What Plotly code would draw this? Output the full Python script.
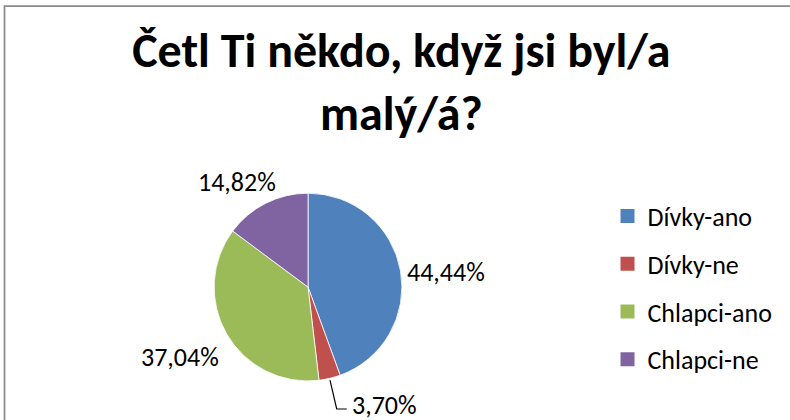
import plotly.graph_objects as go

labels = ["Dívky-ano", "Dívky-ne", "Chlapci-ano", "Chlapci-ne"]
values = [44.44, 3.70, 37.04, 14.82]
colors = ["#4F81BD", "#C0504D", "#9BBB59", "#8064A2"]

# where Excel put each data label (paper coords, anchor)
label_pos = [
    (0.5127, 0.3524, "left"),
    (0.4430, 0.0357, "left"),
    (0.2278, 0.1500, "center"),
    (0.3000, 0.5667, "center"),
]

FONT = "Carlito, Calibri, Open Sans, sans-serif"

fig = go.Figure()

fig.add_trace(go.Pie(
    labels=labels,
    values=values,
    sort=False,
    direction="clockwise",
    rotation=0,
    marker=dict(colors=colors, line=dict(color="white", width=0.8)),
    textinfo="none",
    domain=dict(x=[0.2709, 0.5089], y=[0.0929, 0.540]),
    showlegend=False,
    hoverinfo="label+percent",
))

# data labels
for v, (px, py, anchor) in zip(values, label_pos):
    fig.add_annotation(
        x=px, y=py, xref="paper", yref="paper",
        xanchor=anchor, yanchor="middle",
        text=f"{v:.2f}%".replace(".", ","),
        showarrow=False,
        font=dict(size=26, color="#000000", family=FONT),
    )

# legend entries (square keys, spaced like the original)
for name, col in zip(labels, colors):
    fig.add_trace(go.Scatter(
        x=[None], y=[None],
        mode="markers",
        marker=dict(symbol="square", size=14, color=col),
        name=name,
        legendgroup=name,
        showlegend=True,
    ))

fig.update_layout(
    width=790,
    height=420,
    margin=dict(l=0, r=0, t=0, b=0),
    separators=", ",
    paper_bgcolor="white",
    plot_bgcolor="white",
    font=dict(family=FONT, color="#000000"),
    xaxis=dict(visible=False),
    yaxis=dict(visible=False),
    title=dict(
        text="<b>Četl Ti někdo, když jsi byl/a<br>malý/á?</b>",
        x=0.508,
        xanchor="center",
        y=0.84,
        yanchor="top",
        font=dict(size=48, color="#000000", family=FONT),
    ),
    legend=dict(
        x=0.769,
        y=0.5417,
        xanchor="left",
        yanchor="top",
        font=dict(size=26, color="#000000", family=FONT),
        tracegroupgap=11,
        bgcolor="rgba(0,0,0,0)",
    ),
    shapes=[
        dict(
            type="rect", xref="paper", yref="paper",
            x0=0.0057, x1=1.05, y0=-0.05, y1=0.9857,
            line=dict(color="#8a8a8a", width=1.75),
            fillcolor="rgba(0,0,0,0)",
        ),
        # leader line for the small slice label
        dict(
            type="path", xref="paper", yref="paper",
            path="M 0.4177,0.0952 L 0.4262,0.0262 L 0.4389,0.0262",
            line=dict(color="#000000", width=1.2),
        ),
    ],
)

fig.write_html(
    "out.html",
    config={"displayModeBar": False},
    post_script="document.body.style.margin='0';document.body.style.overflow='hidden';",
)
